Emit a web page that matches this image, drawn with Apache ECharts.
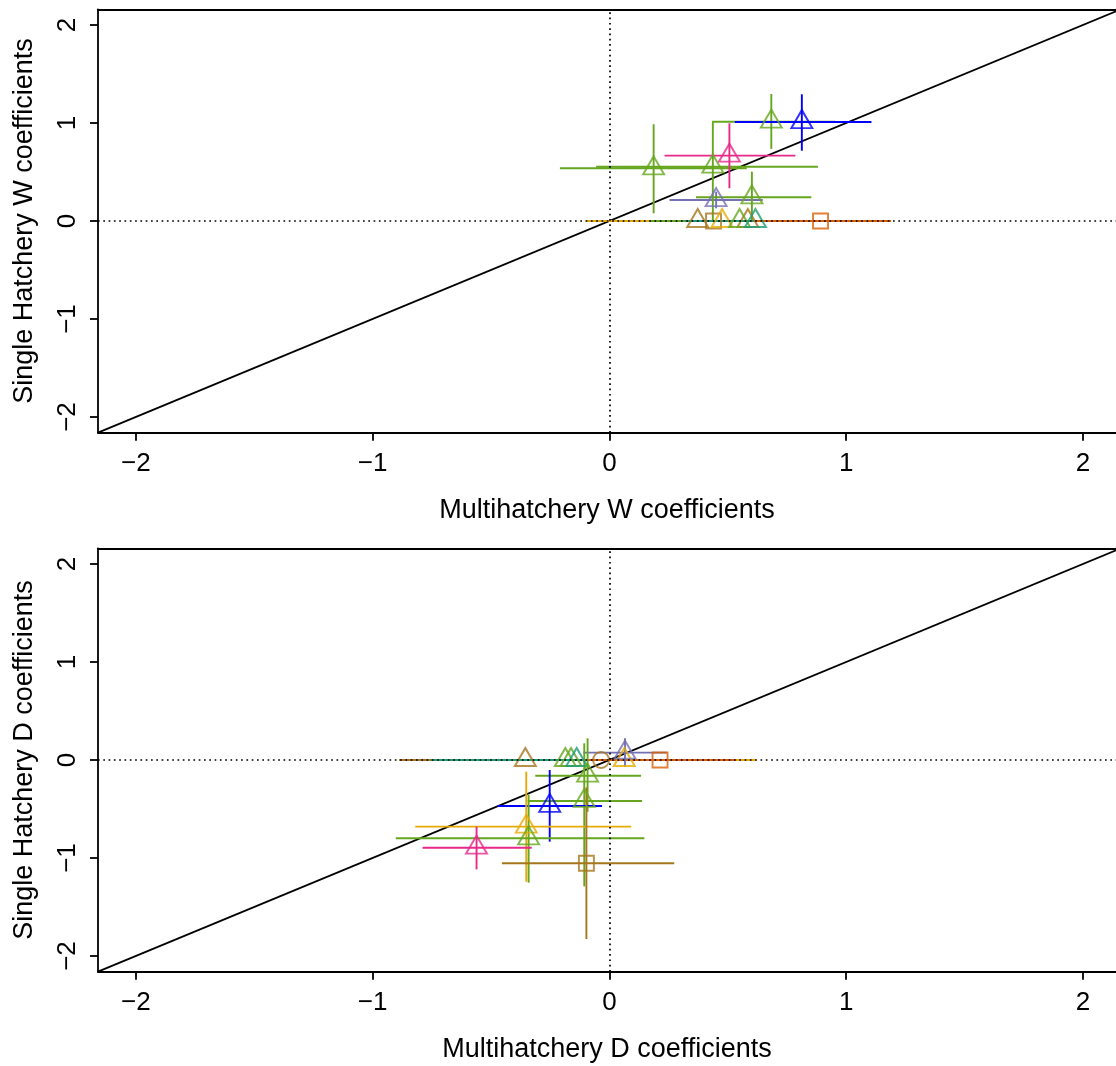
<!DOCTYPE html>
<html><head><meta charset="utf-8">
<script src="https://cdn.jsdelivr.net/npm/echarts@6/dist/echarts.min.js"></script>
<style>html,body{margin:0;padding:0;background:#fff}#c{width:1116px;height:1066px}</style>
</head><body><div id="c"></div>
<script>
// ---------- data ----------
const X_MIN = -2.16, X_MAX = 2.14;   // x range visible inside the canvas (frame runs off the right edge)
const Y_MIN = -2.16, Y_MAX = 2.16;
const TICKS = [-2, -1, 0, 1, 2];
const xTitles = ['Multihatchery W coefficients', 'Multihatchery D coefficients'];
const yTitles = ['Single Hatchery W coefficients', 'Single Hatchery D coefficients'];

// Panel W (top)
const wGroup = ['G7','G7','G7','G6','G5','G1','G2','G3','G5','G5','G5','G4','G5','G8'];
const wShape = ['tri','sq','tri','tri','tri','tri','sq','tri','tri','tri','tri','tri','tri','tri'];
const wX   = [0.373, 0.440, 0.585, 0.476, 0.550, 0.617, 0.892, 0.451, 0.602, 0.187, 0.437, 0.507, 0.684, 0.813];
const wY   = [0, 0, 0, 0, 0, 0, 0, 0.214, 0.242, 0.538, 0.554, 0.667, 1.013, 1.010];
const wXlo = [0.10, 0.18, 0.30, -0.10, 0.17, 0.317, 0.61, 0.254, 0.366, -0.209, -0.056, 0.233, 0.434, 0.530];
const wXhi = [0.65, 0.70, 0.87, 1.05, 0.93, 0.917, 1.19, 0.648, 0.853, 0.58, 0.881, 0.786, 0.954, 1.107];
const wYlo = [0, 0, 0, 0, 0, 0, 0, 0.129, 0.010, 0.079, 0.010, 0.334, 0.735, 0.717];
const wYhi = [0, 0, 0, 0, 0, 0, 0, 0.299, 0.503, 0.987, 1.013, 0.997, 1.296, 1.293];

// Panel D (bottom)
const dGroup = ['G7','G6','G5','G5','G7','G1','G2','G3','G5','G5','G8','G6','G5','G4','G7'];
const dShape = ['tri','tri','tri','tri','circ','tri','sq','tri','tri','tri','tri','tri','tri','tri','sq'];
const dX   = [-0.355, 0.063, -0.186, -0.162, -0.035, -0.138, 0.214, 0.066, -0.092, -0.106, -0.252, -0.351, -0.341, -0.561, -0.097];
const dY   = [0, 0, 0, 0, 0, 0, 0, 0.075, -0.160, -0.418, -0.469, -0.680, -0.799, -0.895, -1.054];
const dXlo = [-0.888, -0.49, -0.75, -0.72, -0.30, -0.754, -0.108, -0.110, -0.313, -0.345, -0.472, -0.820, -0.902, -0.789, -0.454];
const dXhi = [0.18, 0.62, 0.38, 0.40, 0.23, 0.48, 0.536, 0.242, 0.134, 0.138, -0.031, 0.092, 0.148, -0.328, 0.274];
const dYlo = [0, 0, 0, 0, 0, 0, 0, -0.068, -0.528, -1.29, -0.833, -1.242, -1.252, -1.116, -1.827];
const dYhi = [0, 0, 0, 0, 0, 0, 0, 0.221, 0.221, 0.17, -0.102, -0.119, -0.357, -0.680, -0.28];

// ---------- styles ----------
const COLORS = {G1:'#1B9E77', G2:'#D95F02', G3:'#7570B3', G4:'#E7298A', G5:'#66A61E', G6:'#E6AB02', G7:'#A6761D', G8:'#0000FF'};
const SYM = {tri:'triangle', sq:'rect', circ:'circle'};
const SIZE = {tri:[21,18], sq:[15,15], circ:[16,16]};
const OFF = {tri:[0,-3], sq:[0,0], circ:[0,0]};
const FONT = 'Liberation Sans, Arial, Helvetica, sans-serif';
const LW = 1.9;
const FRAME = 1.8;

const fmt = v => v < 0 ? '\u2212' + Math.abs(v) : String(v);

const chart = echarts.init(document.getElementById('c'), null, {renderer:'canvas'});

const grids = [
  {left:98, top:9.3, right:0, height:423.4},
  {left:98, top:548.3, right:0, height:423.4}
].map(g => Object.assign(g, {show:false, containLabel:false}));

const axLine = {show:true, onZero:false, lineStyle:{color:'#000', width:FRAME}};

function xAxes(i){
  return [{gridIndex:i, type:'value', position:'bottom', min:X_MIN, max:X_MAX,
    name:xTitles[i], nameLocation:'middle', nameGap:64,
    nameTextStyle:{fontSize:27, color:'#000', fontFamily:FONT},
    axisLine:axLine, splitLine:{show:false},
    axisTick:{show:true, inside:false, length:8, customValues:TICKS, lineStyle:{color:'#000', width:FRAME}},
    axisLabel:{show:true, customValues:TICKS, formatter:fmt, margin:18, fontSize:26, color:'#000', fontFamily:FONT}
  },{gridIndex:i, type:'value', position:'top', min:X_MIN, max:X_MAX,
    axisLine:axLine, splitLine:{show:false}, axisTick:{show:false}, axisLabel:{show:false}
  }];
}
function yAxis(i){
  return {gridIndex:i, type:'value', position:'left', min:Y_MIN, max:Y_MAX,
    name:yTitles[i], nameLocation:'middle', nameGap:60, nameRotate:90,
    nameTextStyle:{fontSize:27, color:'#000', fontFamily:FONT},
    axisLine:axLine, splitLine:{show:false},
    axisTick:{show:true, inside:false, length:8, customValues:TICKS, lineStyle:{color:'#000', width:FRAME}},
    axisLabel:{show:true, customValues:TICKS, formatter:fmt, rotate:90, margin:17, fontSize:26, color:'#000', fontFamily:FONT}
  };
}

function panel(idx, X, Y, Xlo, Xhi, Ylo, Yhi, G, S){
  const xi = idx * 2;
  const rows = X.map((x, i) => [x, Y[i], Xlo[i], Xhi[i], Ylo[i], Yhi[i], i]);
  const lo = Math.max(X_MIN, Y_MIN), hi = Math.min(X_MAX, Y_MAX);
  const ref = {
    type:'line', xAxisIndex:xi, yAxisIndex:idx, silent:true, z:2,
    data:[[lo, lo], [hi, hi]],
    showSymbol:false, lineStyle:{color:'#000', width:FRAME},
    markLine:{silent:true, symbol:'none', label:{show:false},
      lineStyle:{color:'#000', width:1.7, type:[1.7, 3.6]},
      data:[{xAxis:0}, {yAxis:0}]}
  };
  const bars = {
    type:'custom', xAxisIndex:xi, yAxisIndex:idx, silent:true, z:3,
    data:rows, encode:{x:[0,2,3], y:[1,4,5]},
    renderItem:(params, api) => {
      const i = api.value(6);
      const c = COLORS[G[i]];
      const h1 = api.coord([api.value(2), api.value(1)]);
      const h2 = api.coord([api.value(3), api.value(1)]);
      const v1 = api.coord([api.value(0), api.value(4)]);
      const v2 = api.coord([api.value(0), api.value(5)]);
      const st = {stroke:c, lineWidth:LW};
      return {type:'group', children:[
        {type:'line', shape:{x1:h1[0], y1:h1[1], x2:h2[0], y2:h2[1]}, style:st},
        {type:'line', shape:{x1:v1[0], y1:v1[1], x2:v2[0], y2:v2[1]}, style:st}
      ]};
    }
  };
  const pts = {
    type:'scatter', xAxisIndex:xi, yAxisIndex:idx, silent:true, z:4,
    data:rows.map(r => {
      const i = r[6];
      return {value:[r[0], r[1]], symbol:SYM[S[i]], symbolSize:SIZE[S[i]], symbolOffset:OFF[S[i]],
        itemStyle:{color:'transparent', borderColor:COLORS[G[i]], borderWidth:LW}};
    })
  };
  return [ref, bars, pts];
}

chart.setOption({
  animation:false,
  backgroundColor:'#fff',
  grid:grids,
  xAxis:[...xAxes(0), ...xAxes(1)],
  yAxis:[yAxis(0), yAxis(1)],
  series:[
    ...panel(0, wX, wY, wXlo, wXhi, wYlo, wYhi, wGroup, wShape),
    ...panel(1, dX, dY, dXlo, dXhi, dYlo, dYhi, dGroup, dShape)
  ]
});
</script>
</body></html>
